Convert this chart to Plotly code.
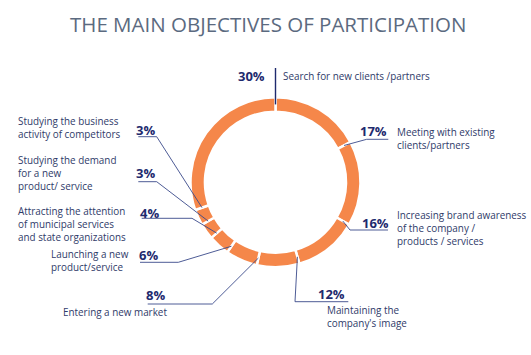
import math
import plotly.graph_objects as go

# ---- data ----
categories = [
    "Meeting with existing<br>clients/partners",
    "Increasing brand awareness<br>of the company /<br>products / services",
    "Maintaining the<br>company's image",
    "Entering a new market",
    "Launching a new<br>product/service",
    "Attracting the attention<br>of municipal services<br>and state organizations",
    "Studying the demand<br>for a new<br>product/ service",
    "Studying the business<br>activity of competitors",
    "Search for new clients /partners",
]
values = [17, 16, 12, 8, 6, 4, 3, 3, 30]
pct_labels = ["17%", "16%", "12%", "8%", "6%", "4%", "3%", "3%", "30%"]

title_text = "THE MAIN OBJECTIVES OF PARTICIPATION"

# ---- layout (pixel geometry) ----
W, H = 531, 355
CX, CY, R = 275.5, 182.2, 85.0
HOLE = 0.83
LINE_GAP = 10.7

ORANGE = "#F5874A"
NAVY = "#1E2A6E"
TEXT = "#2F3B69"
LINE = "#3A4A8A"

def px(x):
    return x / W

def py(y):
    return 1 - y / H

# per-slice label placement: (pct_x_right, pct_y, cat_x_left, cat_first_line_y, elbow, end)
placement = [
    (388.5, 131.5, 396, 132.7, (366.7, 139.3), (388.3, 139.3)),
    (391.0, 223.0, 396, 217.3, (350.0, 230.0), (388.0, 230.0)),
    (347.5, 294.0, 325.7, 310.9, (295.0, 301.7), (348.3, 301.7)),
    (167.0, 295.0, 61.7, 312.0, (212.3, 304.0), (147.7, 304.0)),
    (159.5, 255.0, 50.0, 255.3, (178.3, 262.3), (140.0, 262.3)),
    (161.0, 212.5, 17.3, 213.3, (192.0, 218.3), (141.7, 218.3)),
    (157.0, 172.5, 17.3, 162.2, (156.7, 181.7), (138.3, 181.7)),
    (157.0, 130.0, 17.3, 121.7, (156.7, 136.7), (138.3, 136.7)),
    (267.0, 76.0, 282.0, 76.0, None, (None, 68.0)),
]

fig = go.Figure()
fig.add_trace(go.Pie(
    values=values,
    labels=categories,
    sort=False,
    direction="clockwise",
    rotation=0,
    hole=HOLE,
    marker=dict(colors=[ORANGE] * len(values), line=dict(color="white", width=2.5)),
    textinfo="none",
    hoverinfo="skip",
    showlegend=False,
    domain=dict(x=[px(CX - R), px(CX + R)], y=[py(CY + R), py(CY - R)]),
))

annotations = [dict(
    text=title_text, x=px(268), y=py(24), xref="paper", yref="paper",
    xanchor="center", yanchor="middle", showarrow=False,
    font=dict(family="Open Sans", size=20.5, color="#5B6A80"),
)]
shapes = []

total = sum(values)
cum = 0.0
for i, v in enumerate(values):
    cum += v
    ang = math.radians(cum / total * 360.0)
    rr = R * 0.915
    rx = CX + rr * math.sin(ang)
    ry = CY - rr * math.cos(ang)
    pxr, pyy, cx_, cy_, elbow, end = placement[i]
    # percent label
    annotations.append(dict(
        text="<b>" + pct_labels[i] + "</b>", x=px(pxr), y=py(pyy),
        xref="paper", yref="paper", xanchor="right", yanchor="middle",
        showarrow=False, font=dict(family="Open Sans", size=13, color=NAVY),
    ))
    # category label (block centred on the reference's line block)
    n_lines = categories[i].count("<br>") + 1
    yc = cy_ + (n_lines - 1) * LINE_GAP / 2
    annotations.append(dict(
        text=categories[i], x=px(cx_), y=py(yc),
        xref="paper", yref="paper", xanchor="left", yanchor="middle",
        align="left", showarrow=False, borderpad=0,
        font=dict(family="Open Sans", size=9.9, color=TEXT),
    ))
    # leader line
    if elbow is None:
        path = f"M {px(rx)},{py(ry)} L {px(rx)},{py(end[1])}"
        width = 1.4
        color = NAVY
    else:
        path = (f"M {px(rx)},{py(ry)} L {px(elbow[0])},{py(elbow[1])} "
                f"L {px(end[0])},{py(end[1])}")
        width = 0.9
        color = LINE
    shapes.append(dict(type="path", path=path, xref="paper", yref="paper",
                       line=dict(color=color, width=width)))

fig.update_layout(
    width=W, height=H,
    margin=dict(l=0, r=0, t=0, b=0),
    paper_bgcolor="white", plot_bgcolor="white",
    annotations=annotations, shapes=shapes,
)

fig.write_html("out.html", config={"displayModeBar": False},
               post_script="document.body.style.margin='0';")
